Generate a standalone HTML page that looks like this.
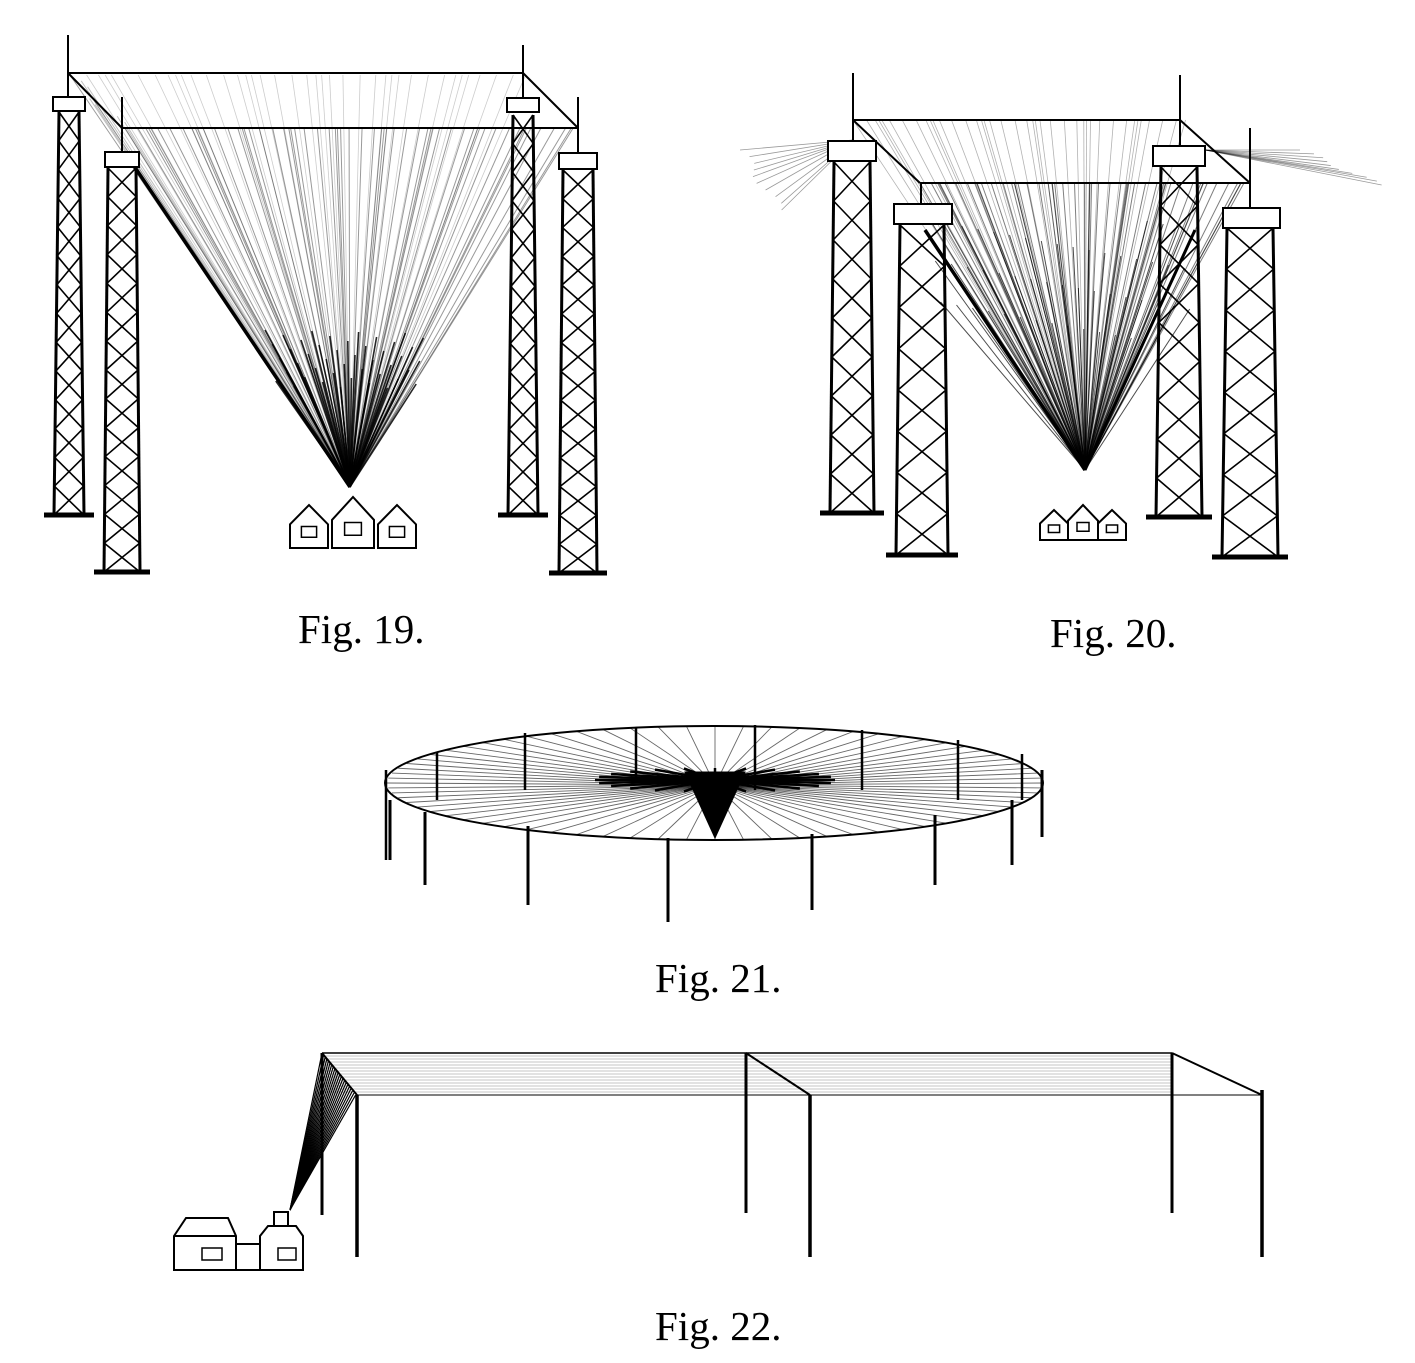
<!DOCTYPE html>
<html><head><meta charset="utf-8">
<style>
html,body{margin:0;padding:0;background:#fff;}
svg{display:block;}
text{font-family:"Liberation Serif",serif;font-size:41px;fill:#000;}
</style></head>
<body>
<svg id="s" width="1415" height="1363" viewBox="0 0 1415 1363" xmlns="http://www.w3.org/2000/svg">
<g id="g" stroke="#000" fill="none"></g>
<text x="298" y="643">Fig. 19.</text>
<text x="1050" y="647">Fig. 20.</text>
<text x="655" y="992">Fig. 21.</text>
<text x="655" y="1340">Fig. 22.</text>
</svg>
<script>
var g=document.getElementById('g'),out='';
function L(x1,y1,x2,y2,w,o){out+='<line x1="'+x1+'" y1="'+y1+'" x2="'+x2+'" y2="'+y2+'" stroke-width="'+(w||1.5)+'"'+(o?' stroke-opacity="'+o+'"':'')+'/>';}
function R(x,y,w,h,sw){out+='<rect x="'+x+'" y="'+y+'" width="'+w+'" height="'+h+'" stroke-width="'+(sw||2)+'" fill="#fff"/>';}
function tower(cx,ty,by,tw,bw,n){
 var lx0=cx-tw/2,rx0=cx+tw/2,lx1=cx-bw/2,rx1=cx+bw/2;
 L(lx0,ty,lx1,by,3);L(rx0,ty,rx1,by,3);
 var pts=[];for(var i=0;i<=n;i++){var t=i/n;pts.push([lx0+(lx1-lx0)*t,rx0+(rx1-rx0)*t,ty+(by-ty)*t]);}
 for(var i=0;i<n;i++){var a=pts[i],b=pts[i+1];L(a[0],a[2],b[1],b[2],1.6);L(a[1],a[2],b[0],b[2],1.6);}
 L(lx1-10,by,rx1+10,by,5);
}
function rays(px,py,x0,x1,y0,y1,n,w,o){for(var i=0;i<n;i++){var t=i/(n-1);var x=x0+(x1-x0)*t+Math.sin(i*7.3)*6;var y=y0+(y1-y0)*t;L(px,py,x,y,w,o);}}
function house(x,y,w,h){out+='<polygon points="'+x+','+(y+h*0.45)+' '+(x+w/2)+','+y+' '+(x+w)+','+(y+h*0.45)+' '+(x+w)+','+(y+h)+' '+x+','+(y+h)+'" stroke-width="2" fill="#fff"/>';R(x+w*0.3,y+h*0.5,w*0.4,h*0.25,1.5);}
// Fig 19
rays(350,487,125,575,128,128,60,1,0.4);
rays(350,487,70,125,75,128,10,1,0.25);
rays(350,487,70,520,75,75,40,0.8,0.2);
for(var i=0;i<45;i++){var x=265+i*3.6;var y=330+((i*37)%60);L(350,487,x,y,1.6,0.85);}
L(130,160,350,487,3.5);
L(68,73,523,73,2);L(68,73,122,128,2);L(523,73,578,128,2);L(122,128,578,128,2);
tower(69,112,515,20,30,14);L(68,35,68,97,2);R(53,97,32,14);
tower(122,168,572,28,36,14);L(122,97,122,152,2);R(105,152,34,15);
tower(523,115,515,20,30,14);L(523,45,523,98,2);R(507,98,32,14);
tower(578,170,573,30,38,14);L(578,97,578,153,2);R(559,153,38,16);
house(290,505,38,43);house(332,497,42,51);house(378,505,38,43);
// Fig 20
rays(1085,470,920,1250,183,183,55,1,0.5);
rays(1085,470,853,1180,120,120,40,0.8,0.3);
rays(853,140,740,780,150,210,10,0.8,0.4);rays(1205,150,1300,1380,150,185,10,0.8,0.4);
for(var i=0;i<50;i++){var x=930+i*5.3;var y=220+((i*41)%120);L(1085,470,x,y,1,0.7);}
L(925,230,1085,470,3.5);L(1195,230,1085,470,3);
L(853,120,1180,120,2);L(853,120,920,183,2);L(1180,120,1250,183,2);L(920,183,1250,183,2);
tower(852,162,513,36,44,9);L(853,73,853,141,2);R(828,141,48,20);
tower(922,225,555,44,52,8);L(921,183,921,204,2);R(894,204,58,20);
tower(1179,167,517,36,46,9);L(1180,75,1180,146,2);R(1153,146,52,20);
tower(1250,228,557,46,56,8);L(1250,128,1250,208,2);R(1223,208,57,20);
house(1040,510,28,30);house(1068,505,30,35);house(1098,510,28,30);
// Fig 21
for(var i=0;i<72;i++){var a=i*Math.PI/36;L(715,785,715+Math.cos(a)*328,783+Math.sin(a)*57,0.9,0.6);}
for(var i=0;i<24;i++){var a=i*Math.PI/12;L(715,780,715+Math.cos(a)*120,780+Math.sin(a)*12,2.5);}
out+='<ellipse cx="714" cy="783" rx="329" ry="57" stroke-width="2"/>';
out+='<polygon points="685,772 745,772 715,838" fill="#000"/>';
var polesU=[[386,770,860],[437,752,800],[525,733,790],[636,727,780],[755,725,790],[862,730,790],[958,740,800],[1022,754,800]];
polesU.forEach(function(p){L(p[0],p[1],p[0],p[2],2.5);});
var polesD=[[390,800,860],[425,812,885],[528,826,905],[668,838,922],[812,834,910],[935,815,885],[1012,800,865],[1042,770,837]];
polesD.forEach(function(p){L(p[0],p[1],p[0],p[2],3);});
// Fig 22
for(var k=0;k<14;k++){L(322,1053+k*3,1172,1053+k*3,0.8,0.3);}
L(322,1053,1172,1053,1.5);L(357,1095,1262,1095,1);
L(322,1053,357,1095,2);L(746,1053,810,1095,2);L(1172,1053,1262,1095,2);
for(var i=0;i<22;i++){L(290,1210,322+i*1.6,1053+i*2,1.2);}
L(322,1053,322,1215,3);L(357,1095,357,1257,3.5);L(746,1053,746,1213,3);L(810,1095,810,1257,3.5);L(1172,1053,1172,1213,3);L(1262,1090,1262,1257,3.5);
out+='<polygon points="174,1236 186,1218 228,1218 236,1236 236,1270 174,1270" stroke-width="2" fill="#fff"/>';
L(174,1236,236,1236,2);R(202,1248,20,12,1.5);
R(236,1244,24,26,2);
out+='<polygon points="260,1236 268,1226 296,1226 303,1236 303,1270 260,1270" stroke-width="2" fill="#fff"/>';
R(274,1212,14,14,2);R(278,1248,18,12,1.5);
g.innerHTML=out;
</script>
</body></html>
